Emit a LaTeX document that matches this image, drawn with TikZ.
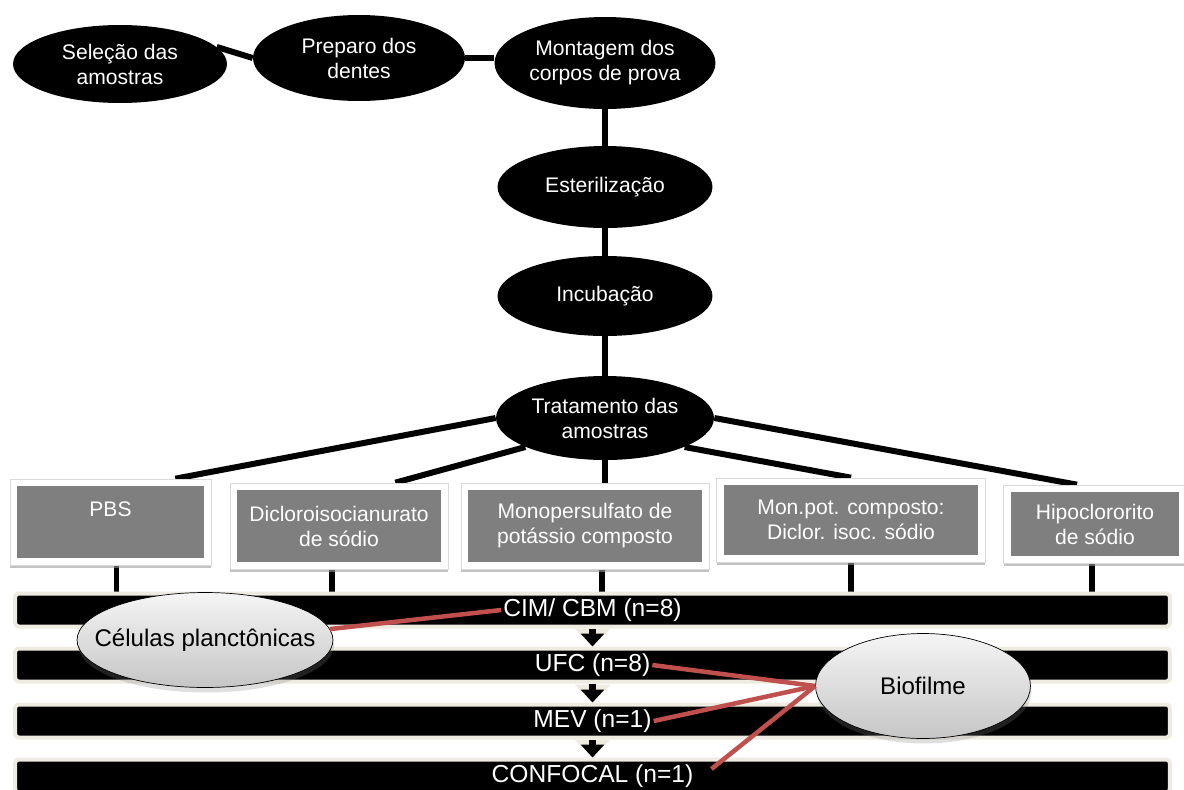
\documentclass[tikz,border=0pt]{standalone}
\usepackage{fontspec}
\setmainfont{Liberation Sans}
\usetikzlibrary{shapes.geometric,shadows,backgrounds,arrows.meta}
\definecolor{beige}{HTML}{EEECE1}
\definecolor{boxgray}{HTML}{7F7F7F}
\definecolor{linkred}{HTML}{C0504D}

\tikzset{
  stage/.style={ellipse, fill=black, text=white, align=center, inner sep=0pt,
    font=\fontsize{12}{14.2}\selectfont},
  agent/.style={rectangle, fill=white, draw=gray!30, thin, inner sep=0pt,
    drop shadow={shadow xshift=0pt, shadow yshift=-0.05cm, fill=gray!80, opacity=0.6},
    text=white, align=center, font=\fontsize{12}{14.2}\selectfont,
    path picture={\fill[boxgray] ([shift={(0.14cm,0.14cm)}]path picture bounding box.south west)
      rectangle ([shift={(-0.14cm,-0.14cm)}]path picture bounding box.north east);}},
  assay/.style={rectangle, fill=black, draw=beige, line width=0.08cm, rounded corners=2pt,
    minimum width=23.1cm, minimum height=0.66cm},
  assaytext/.style={text=white, inner sep=1pt, font=\fontsize{14}{16}\selectfont},
  group/.style={ellipse, draw=black, thin, top color=gray!8, bottom color=gray!45, inner sep=0pt,
    drop shadow={shadow xshift=0.02cm, shadow yshift=-0.1cm, opacity=0.25},
    font=\fontsize{13.7}{16}\selectfont},
  link/.style={line width=0.12cm},
  redlink/.style={linkred, line width=0.09cm},
  flowout/.style={beige, line width=0.22cm, -{Triangle[width=0.7cm, length=0.36cm]}},
  flowin/.style={black, line width=0.13cm, -{Triangle[width=0.46cm, length=0.26cm]}}
}

\begin{document}
\begin{tikzpicture}[x=0.02cm, y=-0.02cm]
\useasboundingbox (0,0) rectangle (1184,789);

% preparo das amostras
\node [stage, minimum width=4.28cm, minimum height=1.56cm] (sel) at (120,64) {Seleção das\\amostras};
\node [stage, minimum width=4.24cm, minimum height=1.72cm] (prep) at (359,58) {Preparo dos\\dentes};
\node [stage, minimum width=4.42cm, minimum height=1.84cm] (mont) at (605,63) {Montagem dos\\corpos de prova};
\node [stage, minimum width=4.3cm, minimum height=1.64cm] (ester) at (605,187) {Esterilização};
\node [stage, minimum width=4.3cm, minimum height=1.6cm] (incub) at (605,296) {Incubação};
\node [stage, minimum width=4.36cm, minimum height=1.68cm] (trat) at (605,418) {Tratamento das\\amostras};

% soluções
\node [agent, minimum width=4.02cm, minimum height=1.72cm] (pbs) at (110.5,522) {PBS\\\mbox{}};
\node [agent, minimum width=4.36cm, minimum height=1.72cm] (diclor) at (339,526) {Dicloroisocianurato\\de sódio};
\node [agent, minimum width=4.96cm, minimum height=1.72cm] (mono) at (585,526) {Monopersulfato de\\potássio composto};
\node [agent, minimum width=5.38cm, minimum height=1.68cm] (monpot) at (851,520) {Mon.pot. composto:\\Diclor. isoc. sódio};
\node [agent, minimum width=3.66cm, minimum height=1.56cm] (hipo) at (1095,524) {Hipoclororito\\de sódio};

% análises
\node [assay] (bar1) at (592.5,610) {};
\node [assay] (bar2) at (592.5,665) {};
\node [assay] (bar3) at (592.5,721) {};
\node [assay] (bar4) at (592.5,776) {};
\node [assaytext] (cim) at (bar1) {CIM/ CBM (n=8)};
\node [assaytext] (ufc) at (bar2) {UFC (n=8)};
\node [assaytext] (mev) at (bar3) {MEV (n=1)};
\node [assaytext] (conf) at (bar4) {CONFOCAL (n=1)};

\foreach \a/\b in {bar1/bar2, bar2/bar3, bar3/bar4} {
  \draw [flowout] (\a.south) -- (\b.north);
  \draw [flowin] (\a.south) -- (\b.north);
}

\begin{scope}[on background layer]
\draw [link] (sel.10) -- (prep.west);
\draw [link] (prep.east) -- (mont.west |- prep.east);
\draw [link] (mont.south) -- (ester.north);
\draw [link] (ester.south) -- (incub.north);
\draw [link] (incub.south) -- (trat.south);
\draw [link] (trat.south) -- (trat.south |- mono.north);
\draw [link] (trat.west) -- ([xshift=-0.72cm]pbs.north east);
\draw [link] (trat.200) -- ([xshift=-1.06cm]diclor.north east);
\draw [link] (trat.-20) -- (monpot.north);
\draw [link] (trat.east) -- ([xshift=-0.36cm]hipo.north);
\foreach \b/\dx in {pbs/0.12, diclor/-0.14, mono/0.34, monpot/0, hipo/-0.06}
  \draw [link] ([xshift=\dx cm]\b.south) -- ([xshift=\dx cm]\b.south |- bar1.north);
\end{scope}

% células e biofilme
\node [group, minimum width=5.12cm, minimum height=1.9cm] (cel) at (205,640) {\makebox[0pt]{Células planctônicas}};
\node [group, minimum width=4.3cm, minimum height=2.1cm] (bio) at (923,686) {\makebox[0pt]{Biofilme}};

\draw [redlink] (cel.5) -- (cim.west);
\draw [redlink] (ufc.east) -- (bio.west);
\draw [redlink] (mev.east) -- (bio.west);
\draw [redlink] ([shift={(0.32cm,0.14cm)}]conf.east) -- (bio.west);
\end{tikzpicture}
\end{document}
